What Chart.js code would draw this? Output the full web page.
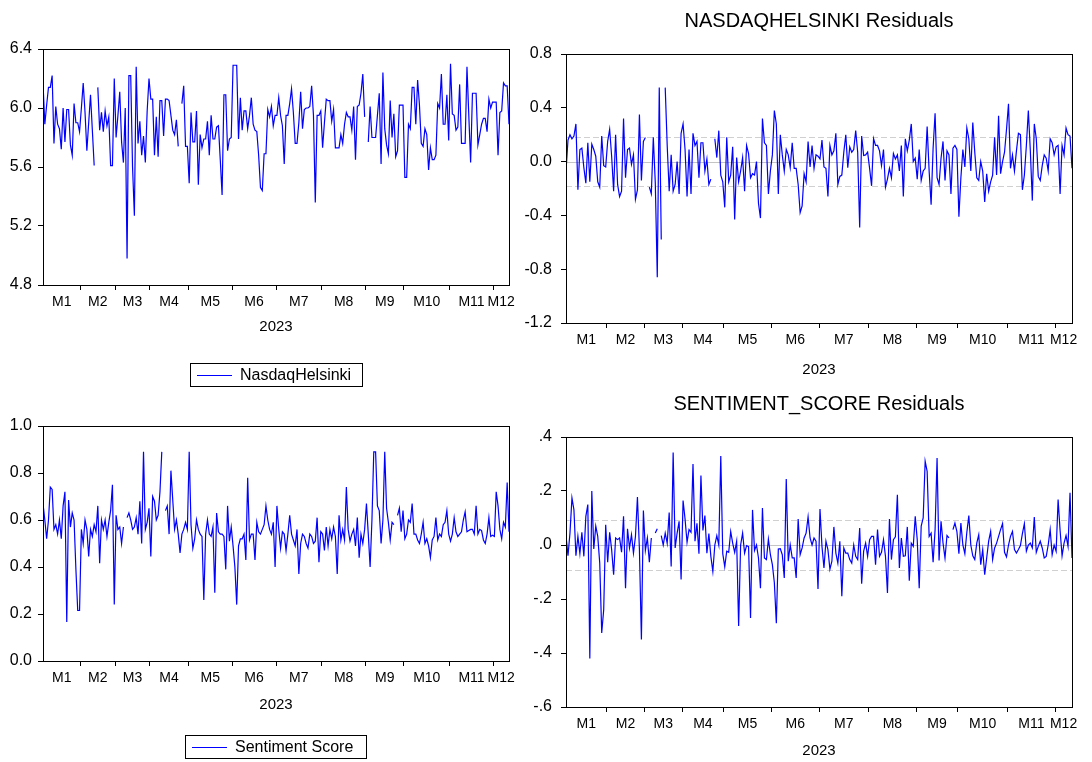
<!DOCTYPE html>
<html>
<head>
<meta charset="utf-8">
<script src="https://cdn.jsdelivr.net/npm/chart.js@4.4.1/dist/chart.umd.min.js"></script>
<style>
  body { margin: 0; background: #fff; }
  #wrap { position: relative; width: 1092px; height: 762px; }
  canvas { position: absolute; }
</style>
</head>
<body>
<div id="wrap">
  <canvas id="tl" width="546" height="395" style="left:0;top:0"></canvas>
  <canvas id="tr" width="572" height="395" style="left:520px;top:0"></canvas>
  <canvas id="bl" width="546" height="367" style="left:0;top:395px"></canvas>
  <canvas id="br" width="572" height="367" style="left:520px;top:395px"></canvas>
</div>
<script>
// months of 2023 and how many observations fall in each
const monthLabels = ['M1', 'M2', 'M3', 'M4', 'M5', 'M6', 'M7', 'M8', 'M9', 'M10', 'M11', 'M12'];
const monthDays = [21, 19, 19, 21, 24, 24, 25, 24, 21, 25, 24, 9];
const yearLabel = '2023';

const nasdaqHelsinki = [
  6.17, 5.89, 6.02, 6.14, 6.14, 6.22, 5.76, 6.01, 5.89, 5.86,
  5.72, 6.0, 5.77, 5.99, 5.99, 5.75, 5.68, 6.03, 5.9, 5.9,
  5.84, 6.0, 6.17, 5.97, 5.71, 5.9, 6.09, 5.85, 5.61, null,
  6.14, 5.85, 5.97, 5.84, 5.98, 5.88, 5.94, 5.61, 5.61, 6.2,
  5.8, 5.95, 6.11, 5.77, 5.63, 6.0, 4.98, 6.22, 6.22, 5.6,
  5.27, 6.28, 5.76, 5.91, 5.68, 5.81, 5.63, 5.98, 6.2, 6.06,
  6.06, 5.68, 5.94, 5.67, 6.05, 6.05, 5.81, 6.06, 6.06, 6.05,
  5.95, 5.85, 5.82, 5.92, 5.74, null, 6.03, 6.15, 5.74, 5.74,
  5.49, 5.97, 5.77, 5.77, 5.98, 5.48, 5.82, 5.73, 5.79, 5.79,
  5.91, 5.68, 5.95, 5.79, 5.79, 5.87, 5.88, 5.65, 5.41, 6.09,
  6.09, 5.71, 5.79, 5.8, 6.29, 6.29, 6.29, 5.79, 6.07, 5.85,
  5.98, 5.98, 5.86, 5.95, 6.07, 5.89, 5.85, 5.84, 5.68, 5.46,
  5.44, 5.69, 5.69, 5.99, 5.94, 6.01, 5.88, 5.95, 5.95, 6.07,
  5.95, 5.88, 5.62, 5.95, 5.95, 6.03, 6.13, 5.97, 5.76, 5.76,
  5.9, 6.11, 5.86, 5.99, 6.0, 6.0, 6.01, 6.15, 5.95, 5.36,
  5.95, 5.95, 5.98, 5.73, 5.9, 6.06, 6.05, 6.05, 5.91, 5.99,
  5.73, 5.73, 5.73, 5.82, 5.76, 5.89, 5.97, 5.94, 5.94, 5.85,
  6.01, 5.65, 6.01, 6.02, 6.1, 6.23, 5.94, null, 5.77, 6.01,
  5.8, 5.8, 5.8, 5.95, 6.1, 5.62, 6.24, 5.86, 5.75, 5.69,
  6.05, 5.8, 5.96, 5.67, 5.71, 6.02, 6.02, 6.02, 5.53, 5.53,
  5.89, 5.86, 6.14, 6.14, 5.89, 6.19, 6.02, 5.76, 5.74, 5.86,
  5.82, 5.58, 5.73, 5.65, 5.65, 5.68, 6.03, 6.0, 6.23, 5.89,
  5.89, 6.09, 5.78, 6.3, 5.96, 5.95, 5.85, 5.87, 6.16, 5.76,
  5.76, 5.76, 6.28, 5.95, 5.63, 6.1, 6.1, 6.1, 5.75, 5.82,
  5.89, 5.93, 5.93, 5.84, 6.06, 6.0, 6.04, 6.04, 6.04, 5.68,
  5.97, 5.98, 6.17, 6.15, 6.15, 5.89
];

const nasdaqResiduals = [
  -0.07, 0.16, 0.2, 0.17, 0.19, 0.28, -0.21, 0.09, 0.1, -0.045,
  -0.16, 0.14, -0.15, 0.13, 0.09, 0.04, -0.15, -0.19, 0.19, -0.03,
  -0.04, 0.15, 0.24, 0.04, -0.22, 0.2, -0.17, -0.26, -0.22, 0.32,
  -0.12, 0.09, 0.1, -0.02, 0.05, -0.28, -0.21, 0.35, -0.14, 0.15,
  0.18, null, -0.19, -0.24, 0.18, -0.16, -0.86, 0.55, -0.58, null,
  0.55, 0.12, -0.22, 0.05, -0.22, -0.17, 0, -0.24, 0.21, 0.28,
  0.09, -0.26, 0.09, -0.24, 0.21, 0.12, 0.15, -0.12, 0.14, 0.14,
  -0.07, 0.02, -0.17, -0.13, null, 0.17, 0.03, 0.23, -0.1, -0.15,
  -0.34, 0.18, -0.15, -0.1, 0.11, -0.43, 0.03, -0.15, -0.07, 0.03,
  -0.22, 0.12, 0.06, -0.12, -0.09, -0.1, 0, -0.31, -0.42, 0.32,
  0.14, 0.12, -0.24, -0.07, 0.05, 0.38, 0.28, -0.24, 0.2, 0.05,
  -0.07, 0.09, 0.05, -0.045, 0.14, -0.05, -0.05, -0.17, -0.38, -0.33,
  -0.09, -0.15, 0.15, -0.04, 0.12, -0.05, 0.05, 0.04, 0.02, 0.16,
  -0.04, -0.05, -0.26, 0.12, 0.05, 0.08, 0.21, -0.17, -0.11, -0.1,
  0.07, 0.2, -0.045, 0.11, 0.07, 0.09, 0.23, 0.07, -0.49, 0.19,
  0.045, 0.05, 0.07, -0.05, -0.18, 0.17, 0.12, 0.12, 0.08, -0.03,
  0.09, -0.19, -0.13, -0.05, -0.12, 0.06, 0.02, 0.05, -0.07, 0.12,
  -0.26, 0.17, 0.08, 0.16, 0.28, 0, 0.025, -0.13, 0.09, -0.14,
  -0.07, -0.05, 0.26, -0.07, -0.32, 0.1, 0.36, -0.12, -0.17, 0.025,
  0.15, -0.14, 0.08, 0.05, -0.24, 0.1, 0.12, 0.09, -0.41, -0.12,
  0.09, -0.04, 0.25, 0.17, -0.07, 0.29, 0.07, -0.12, -0.14, 0,
  -0.07, -0.3, -0.09, -0.22, -0.15, -0.1, 0.18, -0.1, 0.34, -0.09,
  0, 0.07, 0.24, 0.43, -0.05, 0.05, -0.07, 0.08, 0.21, 0.2,
  -0.21, -0.1, 0.12, 0.38, 0.08, -0.29, 0.28, 0.17, -0.11, -0.14,
  -0.03, 0.05, 0.025, -0.07, 0.17, 0.14, 0.05, 0.11, 0.12, -0.24,
  0.12, 0.05, 0.25, 0.2, 0.19, -0.05
];

const sentimentScore = [
  0.67, 0.6, 0.52, 0.6, 0.74, 0.73, 0.56, 0.58, 0.54, 0.6,
  0.52, 0.66, 0.72, 0.166, 0.685, 0.57, 0.63, 0.6, 0.39, 0.215,
  0.215, 0.56, 0.5, 0.6, 0.56, 0.445, 0.56, 0.53, 0.58, 0.55,
  0.66, 0.416, 0.6, 0.56, 0.6, 0.53, 0.59, 0.64, 0.75, 0.24,
  0.62, 0.56, 0.57, 0.5, 0.57, null, 0.61, 0.63, 0.6, 0.56,
  0.57, 0.61, 0.54, 0.68, 0.5, 0.89, 0.56, 0.59, 0.65, 0.445,
  0.7, 0.68, 0.6, 0.62, 0.72, 0.89, null, 0.64, 0.66, 0.54,
  0.81, 0.685, 0.56, 0.6, 0.54, 0.46, 0.54, 0.56, 0.59, 0.56,
  0.89, 0.58, 0.48, 0.52, 0.6, 0.56, 0.54, 0.53, 0.26, 0.54,
  0.6, 0.54, 0.53, 0.57, 0.29, 0.63, 0.55, 0.54, 0.54, 0.53,
  0.39, 0.66, 0.51, 0.57, 0.49, 0.4, 0.24, 0.49, 0.52, 0.52,
  0.54, 0.43, 0.78, 0.515, 0.54, 0.54, 0.43, 0.59, 0.55, 0.54,
  0.56, 0.58, 0.66, 0.6, 0.56, 0.54, 0.59, 0.4, 0.66, 0.56,
  0.48, 0.55, 0.54, 0.47, 0.54, 0.62, 0.54, 0.515, 0.49, 0.56,
  0.37, 0.5, 0.54, 0.53, 0.5, 0.48, 0.54, 0.53, 0.5, 0.51,
  0.61, 0.42, 0.55, 0.54, 0.47, 0.57, 0.49, 0.56, 0.52, 0.57,
  0.53, 0.37, 0.62, 0.515, 0.56, 0.515, 0.74, 0.56, 0.51, 0.54,
  0.56, 0.49, 0.61, 0.44, 0.54, 0.5, 0.56, 0.67, 0.54, 0.4,
  0.6, 0.89, 0.89, 0.66, 0.64, 0.5, 0.6, 0.89, 0.65, 0.59,
  0.515, 0.59, 0.58, null, 0.62, 0.65, 0.55, 0.64, 0.52, 0.54,
  0.6, 0.59, 0.67, 0.54, 0.54, 0.515, 0.5, 0.54, 0.59, 0.5,
  0.52, 0.49, 0.44, 0.515, 0.53, 0.61, 0.515, 0.54, 0.53, 0.58,
  0.59, 0.64, 0.54, 0.51, 0.54, 0.61, 0.55, 0.53, 0.54, 0.55,
  0.6, 0.635, 0.55, 0.555, 0.56, 0.56, 0.54, 0.66, 0.54, 0.56,
  0.555, 0.515, 0.5, 0.54, 0.61, 0.53, 0.535, 0.53, 0.72, 0.66,
  0.56, 0.52, 0.59, 0.57, 0.76, 0.55
];

const sentimentResiduals = [
  0.035, -0.04, 0.044, 0.174, 0.13, -0.04, 0.032, -0.032, 0.047, -0.042,
  0.106, 0.15, -0.42, 0.2, -0.015, 0.07, 0.032, -0.067, -0.326, -0.24,
  0.075, -0.064, 0.047, -0.017, -0.11, 0.026, 0.02, 0.026, -0.027, 0.106,
  -0.16, 0.06, -0.011, 0.038, -0.03, 0.032, 0.178, -0.017, -0.35, 0.128,
  -0.02, 0.026, -0.064, 0.026, null, 0.044, 0.06, null, 0.035, 0,
  0.044, 0.006, 0.12, -0.08, 0.343, -0.011, 0.044, 0.088, -0.128, 0.165,
  0.096, 0.01, 0.057, 0.047, 0.3, 0.014, 0.08, -0.032, 0.257, 0.054,
  0.109, -0.03, 0.042, -0.042, -0.098, 0, 0.035, 0, 0.33, -0.032,
  -0.08, -0.023, -0.027, 0.05, 0.007, -0.027, 0.014, -0.3, 0, 0.044,
  -0.03, -0.002, -0.006, -0.27, 0.13, -0.02, 0, -0.048, -0.16, 0.137,
  -0.048, -0.054, 0.022, -0.036, -0.073, -0.14, -0.29, -0.015, -0.014, -0.036,
  -0.122, 0.244, -0.06, 0, -0.048, -0.048, -0.122, 0.096, -0.036, -0.011,
  0.026, 0.044, 0.104, 0.026, 0, 0.026, 0.014, -0.163, 0.133, -0.005,
  -0.085, 0.014, -0.017, -0.09, -0.06, 0.067, -0.03, -0.067, 0.014, -0.19,
  -0.011, -0.03, -0.03, -0.054, -0.067, 0, -0.042, -0.054, 0.063, -0.143,
  -0.023, 0.007, -0.042, 0.02, 0.032, 0.032, -0.073, 0.057, -0.042, -0.027,
  0.02, -0.042, -0.178, 0.096, -0.054, 0.02, 0.03, 0.186, -0.085, 0.026,
  -0.042, -0.04, 0.067, -0.132, 0.007, -0.005, 0.106, 0.02, -0.16, 0.07,
  0.1, 0.31, 0.273, 0.032, 0.044, -0.064, 0.057, 0.322, -0.057, 0.088,
  0.007, -0.048, 0.035, 0.026, null, 0.057, 0.081, 0.05, -0.032, 0.081,
  0, -0.032, 0.047, 0.109, 0, -0.04, -0.054, 0.007, 0.038, -0.073,
  -0.017, -0.11, -0.048, 0.014, 0.05, -0.054, -0.011, 0.007, 0.032, 0.057,
  0.079, -0.027, -0.044, 0, 0.032, 0.05, -0.017, -0.03, -0.017, -0.002,
  0.042, 0.079, -0.023, 0, 0.007, -0.011, 0.104, -0.027, -0.005, 0.014,
  -0.011, -0.048, -0.042, 0, 0.057, -0.036, 0, -0.023, 0.168, 0.054,
  -0.04, 0.007, 0.035, -0.005, 0.193, -0.048
];

// +/- one standard error bands drawn on the residual graphs
const nasdaqBand = 0.18;
const sentimentBand = 0.093;

const FONT = '"Liberation Sans", Arial, sans-serif';
Chart.defaults.font.family = FONT;
Chart.defaults.font.size = 15;
Chart.defaults.color = '#000';

// month ticks: marks at month boundaries, labels in the middle of each month
const N = monthDays.reduce((a, b) => a + b, 0);
const xTicks = [];
const centerLabel = {};
let start = 0;
monthDays.forEach((d, k) => {
  const end = start + d;
  const lo = Math.max(start - 0.5, 0);
  const hi = Math.min(end - 0.5, N - 1);
  const mid = (lo + hi) / 2;
  centerLabel[mid] = monthLabels[k];
  xTicks.push(mid);
  if (k < monthDays.length - 1) xTicks.push(end - 0.5);
  start = end;
});
xTicks.sort((a, b) => a - b);

function makeChart(id, label, values, o) {
  const points = values.map((v, i) => ({ x: i, y: v }));

  const decor = {
    id: 'decor',
    beforeDatasetsDraw(chart) {
      if (!o.band) return;
      const { ctx, chartArea: a, scales: { y } } = chart;
      ctx.save();
      ctx.lineWidth = 1;
      ctx.strokeStyle = '#c4c4c4';
      const z = Math.round(y.getPixelForValue(0)) + 0.5;
      ctx.beginPath(); ctx.moveTo(a.left, z); ctx.lineTo(a.right, z); ctx.stroke();
      ctx.setLineDash([6, 3]);
      ctx.strokeStyle = '#d0d0d0';
      [o.band, -o.band].forEach(v => {
        const p = Math.round(y.getPixelForValue(v)) + 0.5;
        ctx.beginPath(); ctx.moveTo(a.left, p); ctx.lineTo(a.right, p); ctx.stroke();
      });
      ctx.restore();
    },
    afterDraw(chart) {
      const { ctx, chartArea: a } = chart;
      ctx.save();
      ctx.strokeStyle = '#000';
      ctx.lineWidth = 1;
      ctx.strokeRect(Math.round(a.left) + 0.5, Math.round(a.top) + 0.5,
        Math.round(a.right - a.left), Math.round(a.bottom - a.top));
      ctx.fillStyle = '#000';
      if (o.title) {
        ctx.font = '20px ' + FONT;
        ctx.textAlign = 'center';
        ctx.textBaseline = 'middle';
        ctx.fillText(o.title, (a.left + a.right) / 2, a.top - o.titleGap);
      }
      if (o.legend) {
        const L = o.legend;
        ctx.strokeRect(L.x + 0.5, L.y + 0.5, L.w, L.h);
        const my = Math.round(L.y + L.h / 2) + 0.5;
        ctx.strokeStyle = '#0000ff';
        ctx.beginPath(); ctx.moveTo(L.x + 7, my); ctx.lineTo(L.x + 42, my); ctx.stroke();
        ctx.font = '16px ' + FONT;
        ctx.textAlign = 'left';
        ctx.textBaseline = 'middle';
        ctx.fillText(label, L.x + 50, my);
      }
      ctx.restore();
    }
  };

  return new Chart(document.getElementById(id), {
    type: 'line',
    data: {
      datasets: [{
        label: label,
        data: points,
        borderColor: '#0000ff',
        borderWidth: 1.2,
        pointRadius: 0,
        tension: 0,
        spanGaps: false,
        fill: false
      }]
    },
    options: {
      responsive: false,
      animation: false,
      devicePixelRatio: 1,
      layout: { padding: o.padding },
      plugins: { legend: { display: false }, tooltip: { enabled: false } },
      scales: {
        x: {
          type: 'linear',
          min: 0,
          max: N - 1,
          afterBuildTicks: s => { s.ticks = xTicks.map(v => ({ value: v })); },
          afterFit: s => { s.height = o.xHeight; },
          ticks: {
            autoSkip: false,
            maxRotation: 0,
            minRotation: 0,
            padding: 4,
            font: { size: 14 },
            callback: v => centerLabel[v] || ''
          },
          grid: {
            drawOnChartArea: false,
            drawTicks: true,
            tickLength: 5,
            tickColor: c => (c.tick && centerLabel[c.tick.value]) ? 'rgba(0,0,0,0)' : '#000'
          },
          border: { color: '#000' },
          title: { display: true, text: yearLabel, padding: { top: 0, bottom: o.yearPad } }
        },
        y: {
          min: o.min,
          max: o.max,
          afterFit: s => { s.width = o.yWidth; },
          ticks: { stepSize: o.step, padding: o.yPad, font: { size: 16 }, callback: o.fmt },
          grid: { drawOnChartArea: false, drawTicks: true, tickLength: 5, tickColor: '#000' },
          border: { color: '#000' }
        }
      }
    },
    plugins: [decor]
  });
}

const fix1 = v => v.toFixed(1);
const noLead = v => v.toFixed(1).replace(/^(-?)0\./, '$1.');

makeChart('tl', 'NasdaqHelsinki', nasdaqHelsinki, {
  min: 4.8, max: 6.4, step: 0.4, fmt: fix1,
  padding: { top: 49, right: 37, bottom: 55, left: 0 },
  yWidth: 43, yPad: 6, xHeight: 55, yearPad: 4,
  legend: { x: 190, y: 363, w: 172, h: 23 }
});

makeChart('tr', 'NASDAQHELSINKI Residuals', nasdaqResiduals, {
  min: -1.2, max: 0.8, step: 0.4, fmt: fix1,
  padding: { top: 54, right: 20, bottom: 12, left: 0 },
  yWidth: 46, yPad: 9, xHeight: 60, yearPad: 4,
  band: nasdaqBand,
  title: 'NASDAQHELSINKI Residuals', titleGap: 33
});

makeChart('bl', 'Sentiment Score', sentimentScore, {
  min: 0, max: 1, step: 0.2, fmt: fix1,
  padding: { top: 31, right: 37, bottom: 46, left: 0 },
  yWidth: 43, yPad: 6, xHeight: 55, yearPad: 2,
  legend: { x: 185, y: 340, w: 181, h: 23 }
});

makeChart('br', 'SENTIMENT_SCORE Residuals', sentimentResiduals, {
  min: -0.6, max: 0.4, step: 0.2, fmt: noLead,
  padding: { top: 42, right: 20, bottom: 0, left: 0 },
  yWidth: 46, yPad: 9, xHeight: 55, yearPad: 2,
  band: sentimentBand,
  title: 'SENTIMENT_SCORE Residuals', titleGap: 33
});
</script>
</body>
</html>
